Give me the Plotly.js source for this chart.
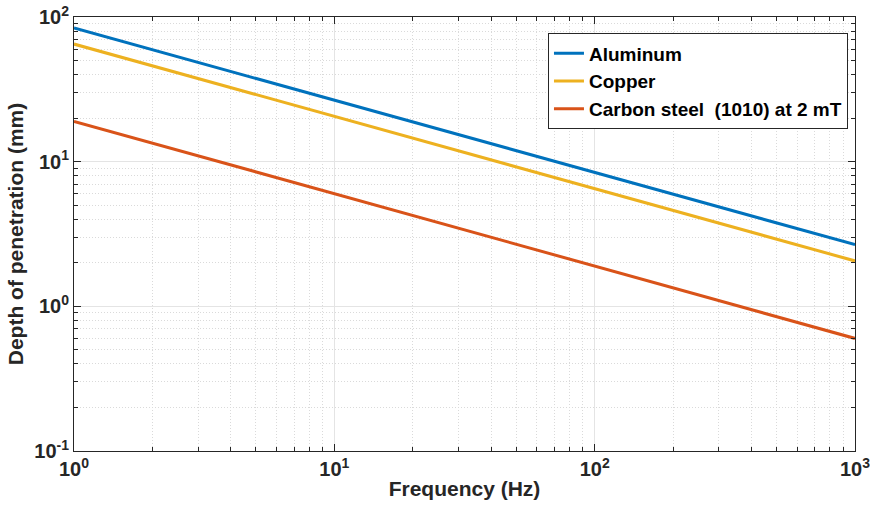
<!DOCTYPE html>
<html>
<head>
<meta charset="utf-8">
<script src="https://cdn.plot.ly/plotly-3.0.1.min.js"></script>
<style>html,body{margin:0;padding:0;background:#fff;}#chart{width:870px;height:505px;}</style>
</head>
<body>
<div id="chart"></div>
<script>
const frequency = [1, 10, 100, 1000];
const aluminum = [84, 26.7, 8.45, 2.67];
const copper = [65, 20.5, 6.5, 2.06];
const carbonSteel = [19, 6.0, 1.9, 0.6];
const seriesNames = ['Aluminum', 'Copper', 'Carbon steel  (1010) at 2 mT'];
const seriesColors = ['#0072BD', '#EDB120', '#D95319'];

const xTickVals = [1, 10, 100, 1000];
const xTickText = ['10<sup>0</sup>', '10<sup>1</sup>', '10<sup>2</sup>', '10<sup>3</sup>'];
const yTickVals = [0.1, 1, 10, 100];
const yTickText = ['10<sup>-1</sup>', '10<sup>0</sup>', '10<sup>1</sup>', '10<sup>2</sup>'];

function minorVals(lo, hi) {
  const v = [];
  for (let d = lo; d < hi; d *= 10) for (let k = 2; k <= 9; k++) v.push(d * k);
  return v;
}

const font = {family: 'Liberation Sans, Arial, sans-serif', color: '#262626', weight: 'bold'};
const ys = [aluminum, copper, carbonSteel];
const traces = ys.map((y, i) => ({
  x: frequency, y: y, type: 'scatter', mode: 'lines', name: seriesNames[i],
  line: {color: seriesColors[i], width: 3}
}));

function axis(tv, tt, range, minorTicks, title, standoff) {
  return {
    type: 'log', range: range, tickmode: 'array', tickvals: tv, ticktext: tt,
    ticks: 'inside', ticklen: 7, tickwidth: 1, tickcolor: '#262626',
    showline: true, linecolor: '#262626', linewidth: 1, mirror: 'allticks',
    showgrid: true, gridcolor: '#e4e4e4', gridwidth: 1, zeroline: false,
    ticklabeloverflow: 'allow',
    tickfont: Object.assign({}, font, {size: 20}),
    minor: {tickmode: 'array', tickvals: minorTicks, ticks: 'inside', ticklen: 4,
            tickcolor: '#262626', showgrid: true, gridcolor: '#dadada', griddash: '1px,2px', gridwidth: 1},
    title: {text: title, standoff: standoff, font: Object.assign({}, font, {size: 21})}
  };
}

const layout = {
  width: 870, height: 505,
  margin: {l: 74, r: 15, t: 17, b: 54},
  paper_bgcolor: '#fff', plot_bgcolor: '#fff',
  xaxis: axis(xTickVals, xTickText, [0, 3], minorVals(1, 1000), 'Frequency (Hz)', 2),
  yaxis: axis(yTickVals, yTickText, [-1, 2], minorVals(0.1, 100), 'Depth of penetration (mm)', 4),
  showlegend: true,
  legend: {x: 0.991, y: 0.962, xanchor: 'right', yanchor: 'top', bgcolor: '#fff',
           bordercolor: '#262626', borderwidth: 1, font: Object.assign({}, font, {size: 19, color: '#000'}),
           tracegroupgap: 0, itemwidth: 30}
};

Plotly.newPlot('chart', traces, layout, {displayModeBar: false, staticPlot: true});
</script>
</body>
</html>
